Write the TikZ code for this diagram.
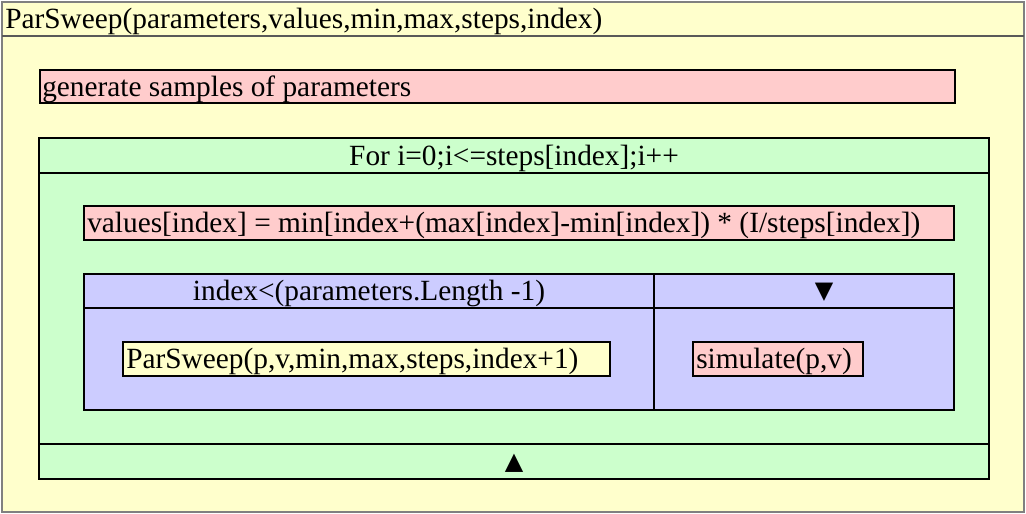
\documentclass[tikz,border=0pt]{standalone}
\usepackage{fontspec}
\setmainfont{Liberation Serif}
\newfontfamily\symfont{DejaVu Sans}
\definecolor{nsyellow}{HTML}{FFFFCC}
\definecolor{nspink}{HTML}{FFCCCC}
\definecolor{nsgreen}{HTML}{CCFFCC}
\definecolor{nsblue}{HTML}{CCCCFF}
\tikzset{
  blk/.style={draw=black, line width=0.8pt},
  txt/.style={inner sep=0pt, font=\fontsize{22}{26}\selectfont},
  tri/.style={inner sep=0pt, font=\symfont\fontsize{18}{20}\selectfont},
}
\begin{document}
\begin{tikzpicture}[x=0.75pt,y=-0.75pt]
    \useasboundingbox (0,0) rectangle (1026,514);

    % ===== 外层：ParSweep =====
    \draw[fill=nsyellow, draw=gray, line width=1.2pt] (2,2) rectangle (1024,512);
    \draw[draw=gray!70!black, line width=0.8pt] (2,36) -- (1024,36);
    \node[txt, anchor=base west] (head) at (5,28) {ParSweep(parameters,values,min,max,steps,index)};

    % 生成样本
    \draw[blk, fill=nspink] (40,70) rectangle (955,103);
    \node[txt, anchor=base west] (gen) at (42,96) {generate samples of parameters};

    % ===== 循环 For =====
    \draw[blk, fill=nsgreen] (39,138) rectangle (989,479);
    \draw[blk] (39,173) -- (989,173);
    \draw[blk] (39,444) -- (989,444);
    \node[txt, anchor=base] (loop) at (514,165) {For i=0;i<=steps[index];i++};
    \node[tri] (up) at (514,463) {▲};

    % 赋值
    \draw[blk, fill=nspink] (84,206) rectangle (954,240);
    \node[txt, anchor=base west] (assign) at (87,232) {values[index] = min[index+(max[index]-min[index]) * (I/steps[index])};

    % ===== 条件 if =====
    \draw[blk, fill=nsblue] (84,274) rectangle (954,410);
    \draw[blk] (84,308) -- (954,308);
    \draw[blk] (654,274) -- (654,410);
    \node[txt, anchor=base] (cond) at (369,300) {index<(parameters.Length -1)};
    \node[tri] (down) at (824,292) {▼};

    % 两个分支
    \draw[blk, fill=nsyellow] (123,342) rectangle (610,376);
    \node[txt, anchor=base west] (call) at (126,368) {ParSweep(p,v,min,max,steps,index+1)};
    \draw[blk, fill=nspink] (693,342) rectangle (863,376);
    \node[txt, anchor=base west] (sim) at (696,368) {simulate(p,v)};
\end{tikzpicture}
\end{document}
